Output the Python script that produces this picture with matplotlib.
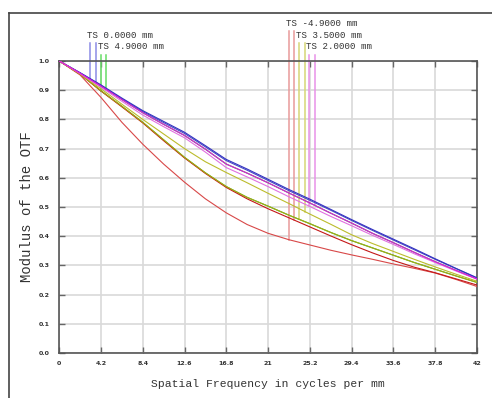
import numpy as np
import matplotlib
matplotlib.use("Agg")
import matplotlib.pyplot as plt
from matplotlib.lines import Line2D

# spatial frequency samples (cycles/mm)
freq = [0, 2.1, 4.2, 6.3, 8.4, 10.5, 12.6, 14.7, 16.8, 18.9, 21,
        23.1, 25.2, 27.3, 29.4, 31.5, 33.6, 35.7, 37.8, 39.9, 42]

# MTF per field, tangential / sagittal
# (green field sits under the magenta / yellow traces in the reference)
green_s = [1.0, 0.958, 0.914, 0.868, 0.823, 0.783, 0.745, 0.698, 0.647, 0.616, 0.583,
           0.548, 0.514, 0.479, 0.445, 0.410, 0.378, 0.345, 0.313, 0.283, 0.254]
green_t = [1.0, 0.955, 0.898, 0.845, 0.790, 0.730, 0.670, 0.617, 0.570, 0.533, 0.503,
           0.472, 0.443, 0.413, 0.385, 0.360, 0.335, 0.310, 0.287, 0.264, 0.242]
blue_s = [1.0, 0.960, 0.918, 0.873, 0.830, 0.793, 0.756, 0.710, 0.663, 0.630, 0.595,
          0.560, 0.527, 0.492, 0.457, 0.423, 0.390, 0.357, 0.323, 0.290, 0.258]
blue_t = [1.0, 0.959, 0.916, 0.870, 0.827, 0.789, 0.752, 0.706, 0.659, 0.626, 0.591,
          0.556, 0.523, 0.489, 0.454, 0.420, 0.387, 0.354, 0.321, 0.289, 0.257]
red_t = [1.0, 0.952, 0.875, 0.790, 0.715, 0.647, 0.585, 0.528, 0.480, 0.440, 0.410,
         0.388, 0.370, 0.352, 0.336, 0.321, 0.305, 0.290, 0.274, 0.252, 0.228]
red_s = [1.0, 0.955, 0.897, 0.843, 0.788, 0.727, 0.668, 0.615, 0.567, 0.528, 0.494,
         0.463, 0.432, 0.401, 0.371, 0.343, 0.317, 0.294, 0.275, 0.254, 0.233]
yellow_t = [1.0, 0.955, 0.898, 0.845, 0.790, 0.730, 0.670, 0.617, 0.570, 0.533, 0.503,
            0.472, 0.443, 0.413, 0.385, 0.360, 0.335, 0.310, 0.287, 0.264, 0.242]
yellow_s = [1.0, 0.956, 0.905, 0.852, 0.800, 0.750, 0.700, 0.655, 0.618, 0.583, 0.547,
            0.512, 0.476, 0.441, 0.405, 0.375, 0.348, 0.321, 0.295, 0.270, 0.246]
mag_t = [1.0, 0.957, 0.910, 0.862, 0.815, 0.775, 0.737, 0.688, 0.635, 0.603, 0.570,
         0.535, 0.502, 0.468, 0.436, 0.403, 0.372, 0.340, 0.310, 0.281, 0.253]
mag_s = [1.0, 0.958, 0.914, 0.868, 0.823, 0.783, 0.745, 0.698, 0.647, 0.616, 0.583,
         0.548, 0.514, 0.479, 0.445, 0.410, 0.378, 0.345, 0.313, 0.283, 0.254]

field_labels = ["TS 0.0000 mm", "TS 4.9000 mm", "TS -4.9000 mm",
                "TS 3.5000 mm", "TS 2.0000 mm"]
# where the T / S legend markers sit on the frequency axis
marker_freq = [(3.09, 3.7), (4.17, 4.7), (23.1, 23.6), (24.1, 24.7), (25.1, 25.7)]
marker_top = [1.062, 1.021, 1.103, 1.062, 1.021]

xticks = [0, 4.2, 8.4, 12.6, 16.8, 21, 25.2, 29.4, 33.6, 37.8, 42]
xtick_labels = ["0", "4.2", "8.4", "12.6", "16.8", "21", "25.2", "29.4", "33.6", "37.8", "42"]
yticks = [0.0, 0.1, 0.2, 0.3, 0.4, 0.5, 0.6, 0.7, 0.8, 0.9, 1.0]

# drawing order: green first (hidden under the others)
fields = [
    ("green", green_t, green_s, "#2fbf2f", "#2fbf2f", "#66dd66"),
    ("blue", blue_t, blue_s, "#4848c8", "#3434c0", "#8c8ce6"),
    ("red", red_t, red_s, "#d84848", "#c41818", "#e89a9a"),
    ("yellow", yellow_t, yellow_s, "#a8a812", "#bcbc2c", "#d6d676"),
    ("magenta", mag_t, mag_s, "#e070e0", "#dc18dc", "#e892e8"),
]
label_index = {"blue": 0, "green": 1, "red": 2, "yellow": 3, "magenta": 4}

fig = plt.figure(figsize=(4.92, 3.98), dpi=100)
ax = fig.add_axes([0.1205, 0.1131, 0.8485, 0.7336])

for name, t, s, ct, cs, cm in fields:
    ax.plot(freq, t, color=ct, lw=0.8, zorder=3)
    ax.plot(freq, s, color=cs, lw=0.8, zorder=3)

for name, t, s, ct, cs, cm in fields:
    i = label_index[name]
    xs = marker_freq[i]
    for xv, curve in zip(xs, (t, s)):
        yv = np.interp(xv, freq, curve)
        ax.plot([xv, xv], [yv, marker_top[i]], color=cm, lw=1.1,
                clip_on=False, zorder=2)
    ax.text(xs[0] - 0.3, marker_top[i] + 0.027, field_labels[i],
            family="Liberation Mono", fontsize=6.6, color="#333333",
            ha="left", va="center", clip_on=False)

ax.set_xlim(0, 42)
ax.set_ylim(0, 1.0)
ax.set_xticks(xticks)
ax.set_xticklabels(xtick_labels)
ax.set_yticks(yticks)
ax.set_yticklabels(["%.1f" % v for v in yticks])
ax.grid(True, color="#d9d9d9", lw=1.2, zorder=0)
ax.set_axisbelow(True)
ax.tick_params(direction="in", length=4.5, width=1.0, color="#666666",
               top=True, right=True, labelsize=4.5, labelcolor="#333333")
ax.tick_params(axis="y", pad=7)
ax.tick_params(axis="x", pad=6)
for lab in ax.get_xticklabels() + ax.get_yticklabels():
    lab.set_fontweight("bold")
for sp in ax.spines.values():
    sp.set_color("#555555")
    sp.set_linewidth(1.2)

ax.set_xlabel("Spatial Frequency in cycles per mm", family="Liberation Mono",
              fontsize=8.2, color="#333333")
ax.xaxis.set_label_coords(0.5, -0.088)
ax.set_ylabel("Modulus of the OTF", family="Liberation Mono",
              fontsize=10, color="#333333", va="center")
ax.yaxis.set_label_coords(-0.077, 0.5)

# window frame, top and left edges
fig.add_artist(Line2D([9 / 492, 1.0], [1 - 13 / 398, 1 - 13 / 398],
                      color="#444444", lw=1.2))
fig.add_artist(Line2D([9 / 492, 9 / 492], [0, 1 - 13 / 398],
                      color="#444444", lw=1.2))

fig.savefig("out.png", dpi=100)
